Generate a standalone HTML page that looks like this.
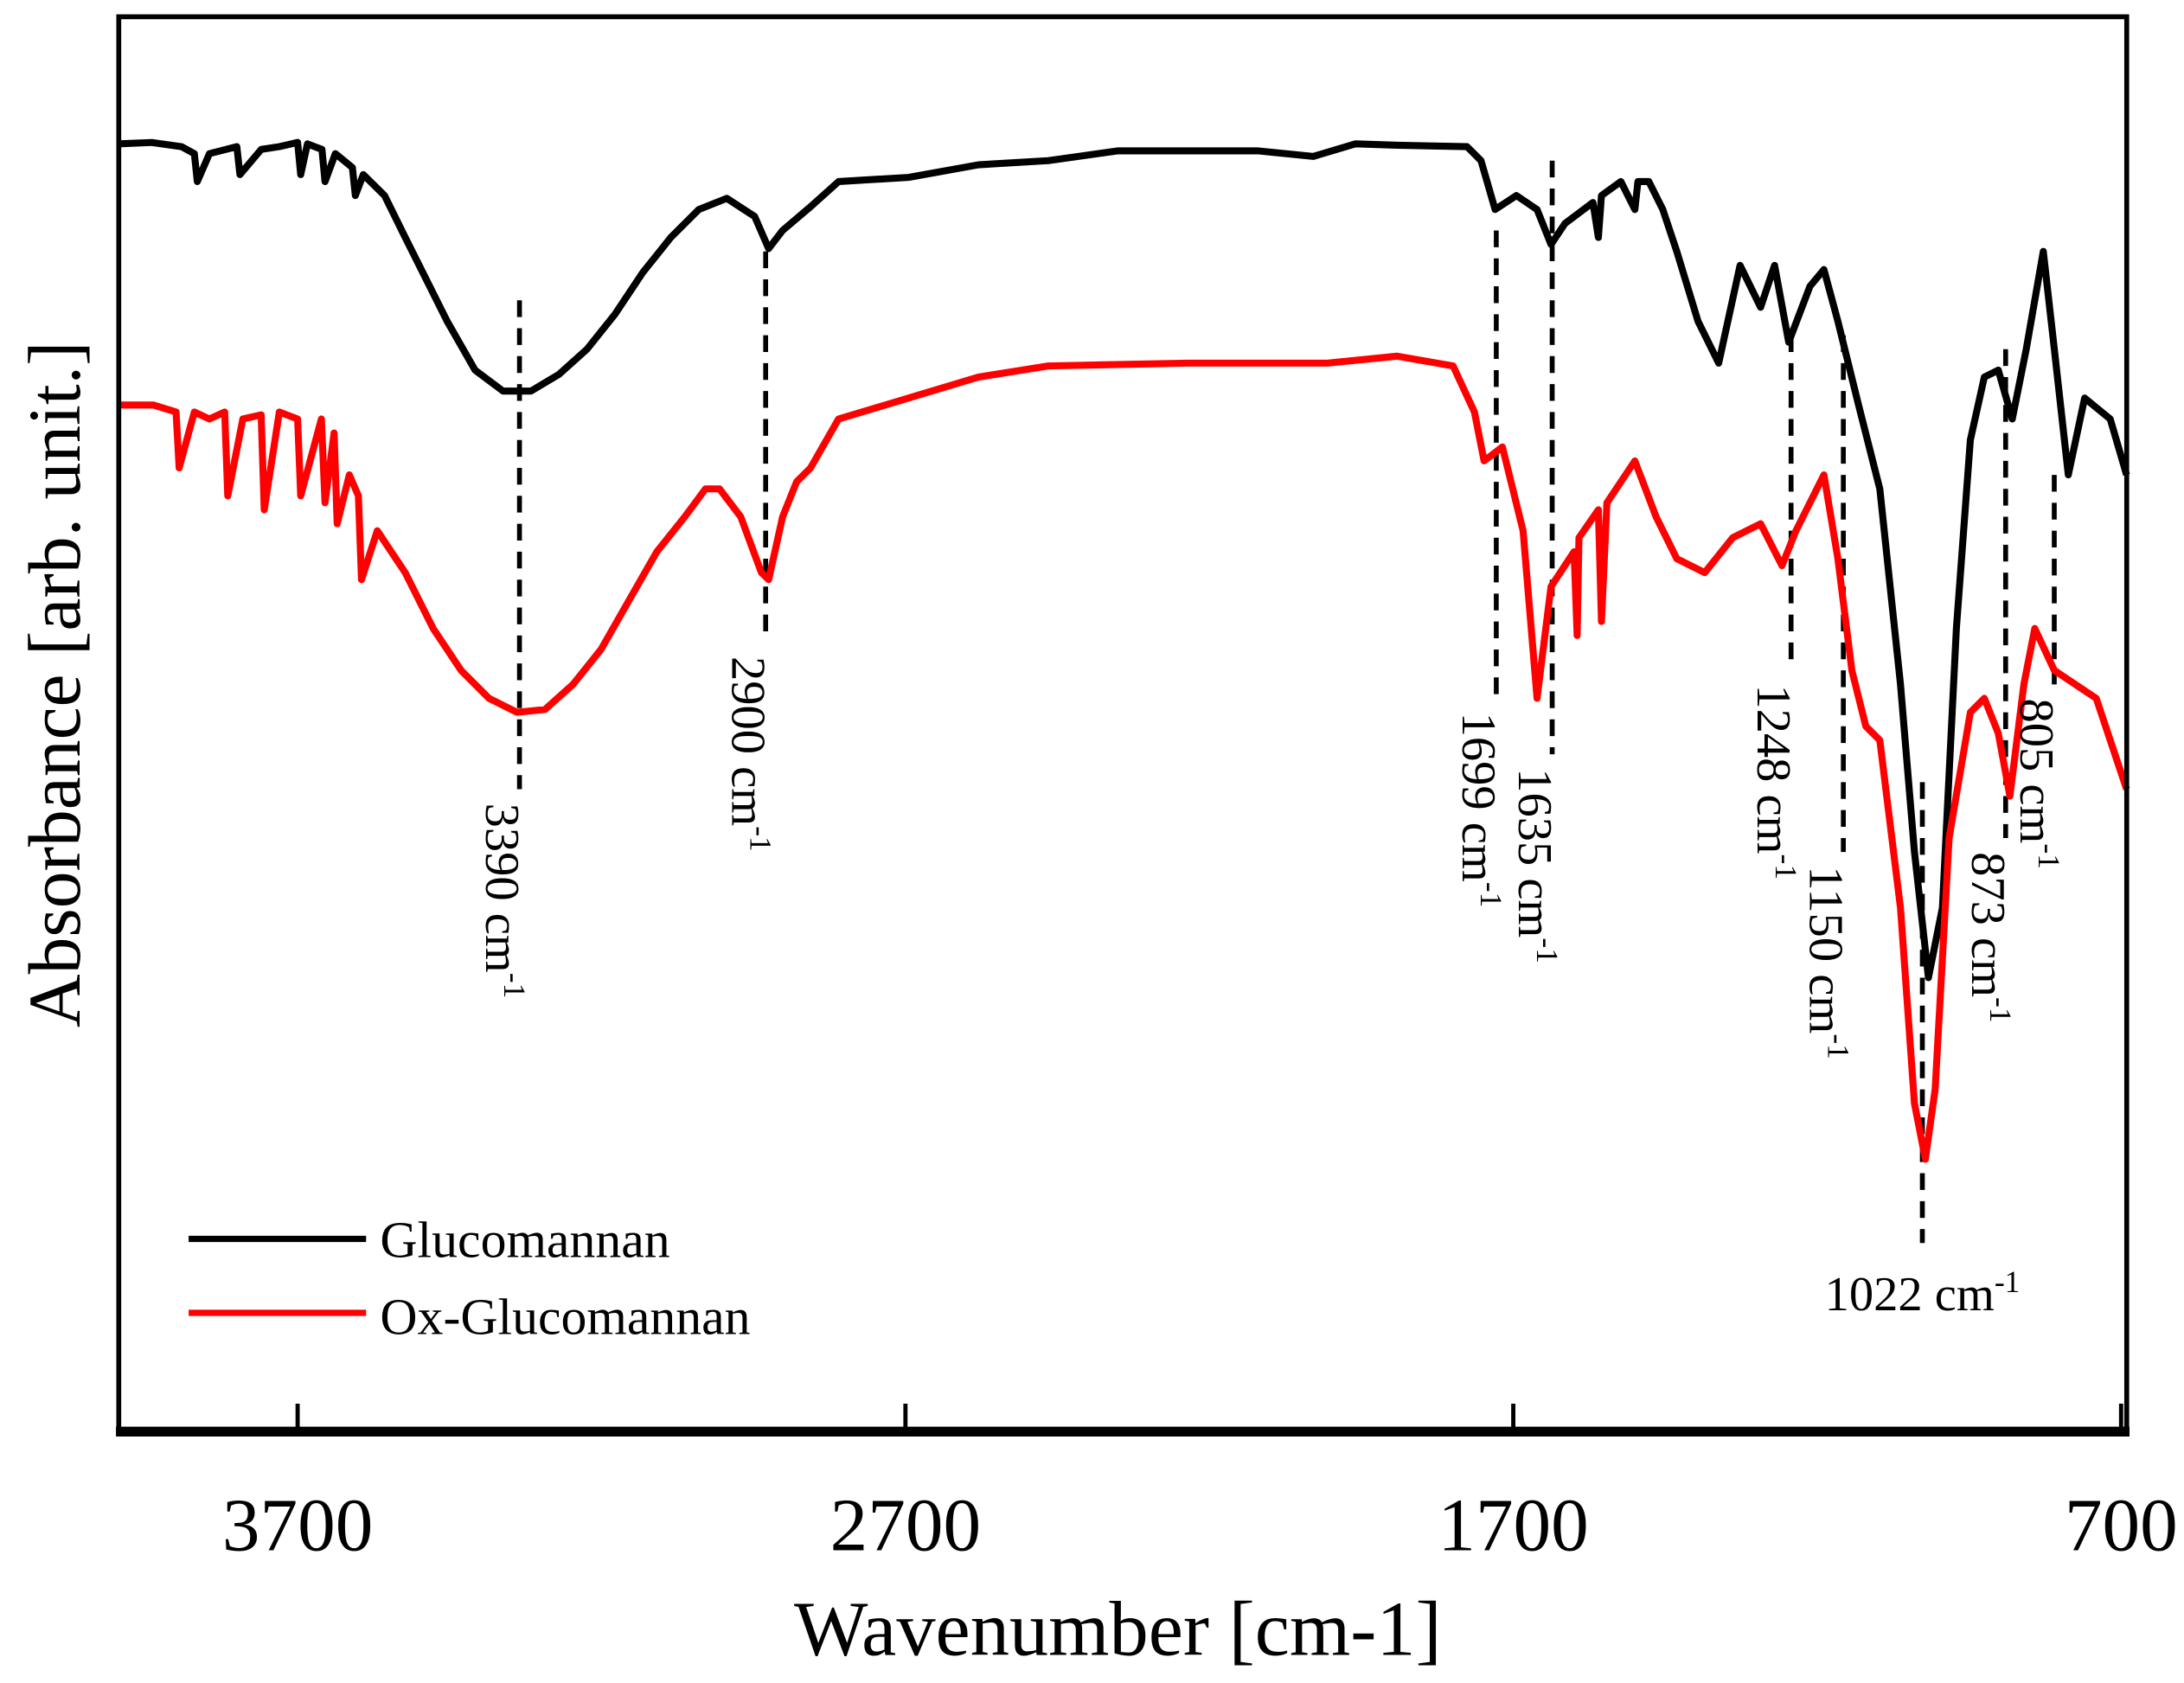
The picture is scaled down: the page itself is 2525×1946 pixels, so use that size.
<!DOCTYPE html>
<html><head><meta charset="utf-8"><style>
html,body{margin:0;padding:0;background:#fff;}
svg{display:block;}
text{font-family:"Liberation Serif",serif;fill:#000;}
</style></head><body>
<svg id="chart" width="2525" height="1946" viewBox="0 0 1563 1205" preserveAspectRatio="none" xmlns="http://www.w3.org/2000/svg">
<g id="plot"></g>
</svg>
<script>
const glucoWn=[3994,3940,3891,3870,3865,3845,3800,3795,3760,3730,3700,3695,3684,3660,3655,3638,3610,3605,3592,3557,3523,3500,3454,3408,3362,3316,3270,3224,3178,3132,3086,3040,2994,2948,2925,2902,2856,2810,2695,2580,2465,2350,2121,2029,1960,1891,1776,1753,1730,1695,1661,1638,1615,1569,1560,1555,1523,1500,1495,1477,1454,1431,1396,1362,1327,1293,1270,1247,1212,1189,1166,1132,1097,1063,1040,1017,994,971,948,925,902,879,856,828,810,787,760,718,691];
const glucoVal=[92.2,92.3,92.0,91.5,89.5,91.5,92.0,90.0,91.8,92.0,92.3,90.0,92.2,91.8,89.5,91.5,90.5,88.5,90.0,88.5,85.5,83.5,79.5,76.0,74.5,74.5,75.7,77.5,80.0,83.0,85.5,87.5,88.3,87.0,84.7,86.0,87.7,89.5,89.8,90.7,91.0,91.7,91.7,91.3,92.2,92.1,92.0,91.0,87.5,88.5,87.5,85.0,86.5,88.0,85.5,88.5,89.5,87.5,89.5,89.5,87.5,84.5,79.5,76.5,83.5,80.5,83.5,78.0,82.0,83.2,79.5,73.5,67.5,53.5,41.5,32.5,37.5,57.5,71.0,75.5,76.0,72.5,77.5,84.5,77.5,68.5,74.0,72.5,68.5];
const oxWn=[3994,3937,3900,3895,3870,3845,3820,3815,3790,3760,3755,3730,3700,3695,3661,3655,3640,3635,3615,3600,3595,3569,3523,3477,3431,3385,3339,3293,3247,3201,3155,3109,3063,3029,3006,2971,2937,2925,2902,2879,2856,2810,2695,2580,2465,2236,2006,1891,1799,1764,1748,1718,1684,1661,1638,1600,1595,1592,1560,1555,1546,1500,1465,1431,1385,1339,1293,1258,1235,1189,1166,1143,1120,1097,1063,1040,1022,1006,983,948,925,902,883,860,842,810,741,691];
const oxVal=[73.5,73.5,73.0,69.0,73.0,72.5,73.0,67.0,72.5,72.8,66.0,73.0,72.5,67.0,72.5,66.5,71.5,65.0,68.5,67.0,61.0,64.5,61.5,57.5,54.5,52.5,51.5,51.7,53.5,56.0,59.5,63.0,65.5,67.5,67.5,65.5,61.5,61.0,65.5,68.0,69.0,72.5,74.0,75.5,76.3,76.5,76.5,77.0,76.3,73.0,69.5,70.5,64.5,52.5,60.5,63.0,57.0,64.0,66.0,58.0,66.5,69.5,65.5,62.5,61.5,64.0,65.0,62.0,64.5,68.5,62.5,54.5,50.5,49.5,37.5,23.5,19.5,24.5,42.5,51.5,52.5,50.0,45.5,53.5,57.5,54.5,52.5,46.0];
const peakLabel=["3390","2900","1699","1635","1248","1150","1022","873","805"];
const peakPos=[3335,2930,1728,1636,1243,1157,1027,890,810];
const peakTop=[81,84.5,86,91,78.5,78.5,46.5,77.5,68.5];
const peakBot=[46,56.5,52.5,48.5,54.5,41.5,13.5,42.5,53.5];
const xTicks=[3700,2700,1700,700];

const NS="http://www.w3.org/2000/svg";
const g=document.getElementById('plot');
function X(w){return 213+(3700-w)*0.435;}
function Y(v){return 1025-v*10;}
function mk(tag,attrs){const e=document.createElementNS(NS,tag);for(const k in attrs)e.setAttribute(k,attrs[k]);g.appendChild(e);return e;}

peakPos.forEach((w,i)=>{
  const l=mk('line',{x1:X(w),x2:X(w),y1:Y(peakTop[i]),y2:Y(peakBot[i]),stroke:'#000','stroke-width':3.5,'stroke-dasharray':'12,8'});
  
  
});
function series(wn,val,color,name){
  const d=wn.map((w,i)=>(i?'L':'M')+X(w).toFixed(1)+','+Y(val[i]).toFixed(1)).join('');
  const p=mk('path',{d:d,fill:'none',stroke:color,'stroke-width':5,'stroke-linejoin':'round'});
  
  
}
series(glucoWn,glucoVal,'#000','glucomannan-line');
series(oxWn,oxVal,'#ff0000','ox-glucomannan-line');

peakPos.forEach((w,i)=>{
  const t=document.createElementNS(NS,'text');
  
  
  t.setAttribute('font-size','35');
  if(peakLabel[i]==='1022'){
    t.setAttribute('x',X(w));t.setAttribute('y',Y(peakBot[i])+48);t.setAttribute('text-anchor','middle');
  } else {
    const x=X(w)-24, y=Y(peakBot[i])+10;
    t.setAttribute('transform','translate('+x+','+y+') rotate(90)');
  }
  t.innerHTML=peakLabel[i]+' cm<tspan font-size="22" dy="-13">-1</tspan>';
  g.appendChild(t);
});

const fr=mk('rect',{x:85,y:12,width:1437,height:1013,fill:'none',stroke:'#000','stroke-width':3.5});


const xa=mk('line',{x1:83,x2:1524,y1:1025,y2:1025,stroke:'#000','stroke-width':7});


xTicks.forEach(w=>{
  const tk=mk('line',{x1:X(w),x2:X(w),y1:1005,y2:1025,stroke:'#000','stroke-width':3});
  
  
  const t=mk('text',{x:X(w),y:1110,'font-size':54,'text-anchor':'middle'});
  
  
  t.textContent=w;
});
</script>
<svg style="position:absolute;left:0;top:0" width="2525" height="1946" viewBox="0 0 1563 1205" preserveAspectRatio="none" xmlns="http://www.w3.org/2000/svg">
<text x="800" y="1185" font-size="56" text-anchor="middle">Wavenumber [cm-1]</text>
<text transform="translate(57,490) rotate(-90)" font-size="53" text-anchor="middle">Absorbance [arb. unit.]</text>
<g>
<line x1="135" x2="262" y1="887" y2="887" stroke="#000" stroke-width="4.5"/>
<text x="272" y="900" font-size="37">Glucomannan</text>
<line x1="135" x2="262" y1="940" y2="940" stroke="#ff0000" stroke-width="4.5"/>
<text x="272" y="955" font-size="37">Ox-Glucomannan</text>
</g>
</svg>
</body></html>
